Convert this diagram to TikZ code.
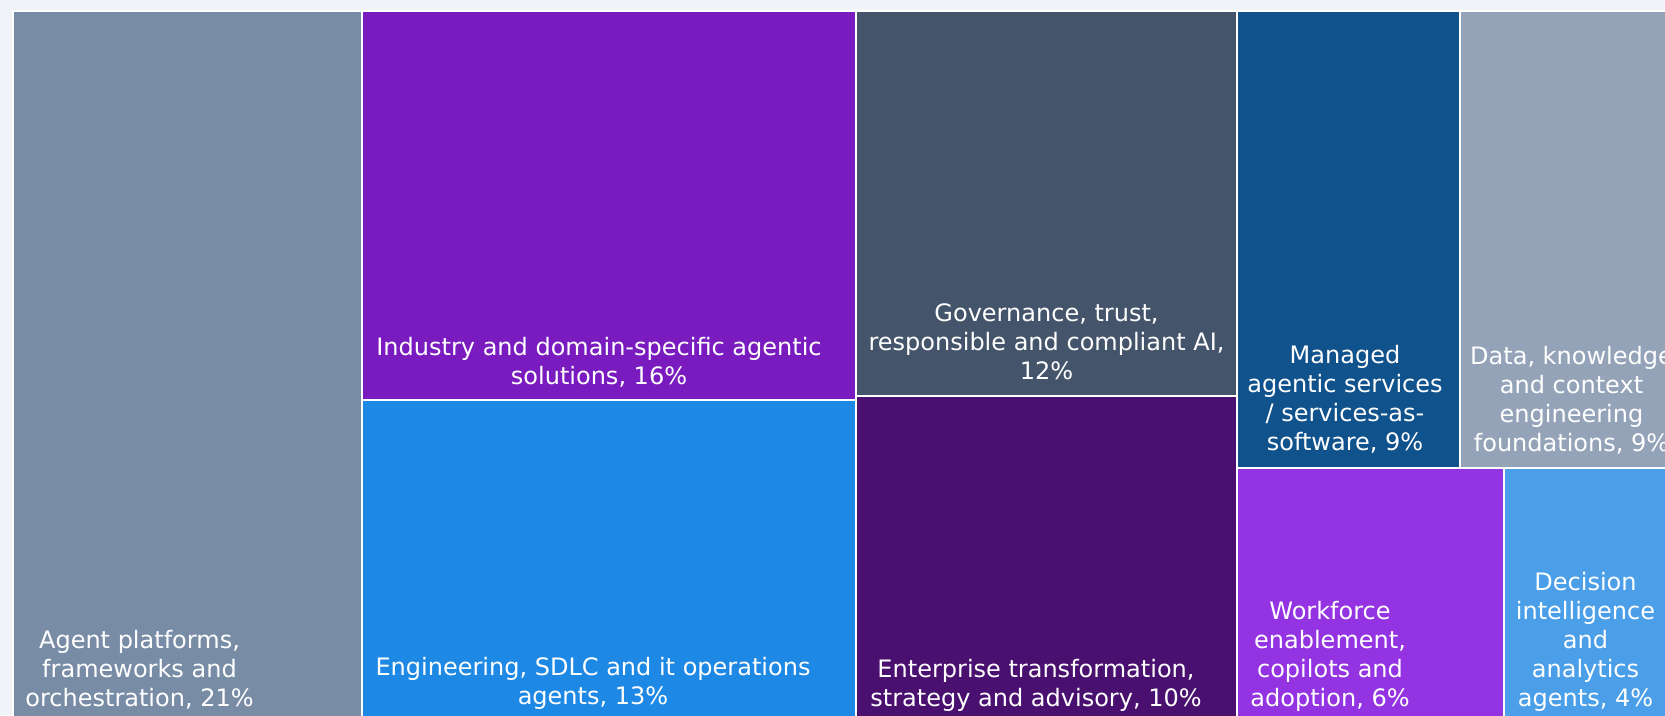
\documentclass[tikz,border=0pt]{standalone}
\usepackage{fontspec}
\setmainfont{DejaVu Sans}
\usepackage{tikz}
\definecolor{pagebg}{HTML}{F0F4F8}
\definecolor{agentgray}{HTML}{788CA6}
\definecolor{industrypurple}{HTML}{7A1BC0}
\definecolor{engblue}{HTML}{1E88E5}
\definecolor{govslate}{HTML}{44546A}
\definecolor{entpurple}{HTML}{4A1070}
\definecolor{managedblue}{HTML}{10528C}
\definecolor{datagray}{HTML}{94A3B8}
\definecolor{workpurple}{HTML}{9333E2}
\definecolor{decblue}{HTML}{4A9FE8}
\tikzset{
  tile/.style={
    fill=#1,
    draw=white,
    line width=2pt,
  },
  tile label/.style={
    anchor=south,
    inner sep=0pt,
    text=white,
    align=center,
    text depth=0pt,
    font=\fontsize{24}{29}\selectfont,
  }
}

\begin{document}
\begin{tikzpicture}[x=1pt, y=-1pt]
  \useasboundingbox (0,0) rectangle (1665,715);
  \fill [pagebg] (0,0) rectangle (1665,715);
  \clip (0,0) rectangle (1665,715);

  \path [tile=agentgray] (12.5,10.5) rectangle (362,740);
  \path [tile=industrypurple] (362,10.5) rectangle (855.5,400);
  \path [tile=engblue] (362,400) rectangle (855.5,740);
  \path [tile=govslate] (855.5,10.5) rectangle (1237,395.5);
  \path [tile=entpurple] (855.5,395.5) rectangle (1237,740);
  \path [tile=managedblue] (1237,10.5) rectangle (1460.3,467.7);
  \path [tile=datagray] (1460.3,10.5) rectangle (1700,467.7);
  \path [tile=workpurple] (1237,467.7) rectangle (1504.3,740);
  \path [tile=decblue] (1504.3,467.7) rectangle (1700,740);

  \node [tile label] (agent) at (139.5,707) {Agent platforms,\\frameworks and\\orchestration, 21\%};
  \node [tile label] (industry) at (599,385) {Industry and domain-specific agentic\\solutions, 16\%};
  \node [tile label] (engineering) at (593,705) {Engineering, SDLC and it operations\\agents, 13\%};
  \node [tile label] (governance) at (1046.5,380) {Governance, trust,\\responsible and compliant AI,\\12\%};
  \node [tile label] (enterprise) at (1036,707) {Enterprise transformation,\\strategy and advisory, 10\%};
  \node [tile label] (managed) at (1345,451) {Managed\\agentic services\\/ services-as-\\software, 9\%};
  \node [tile label] (data) at (1571.5,451.5) {Data, knowledge\\and context\\engineering\\foundations, 9\%};
  \node [tile label] (workforce) at (1330,707) {Workforce\\enablement,\\copilots and\\adoption, 6\%};
  \node [tile label] (decision) at (1585.5,707) {Decision\\intelligence\\and\\analytics\\agents, 4\%};
\end{tikzpicture}
\end{document}
